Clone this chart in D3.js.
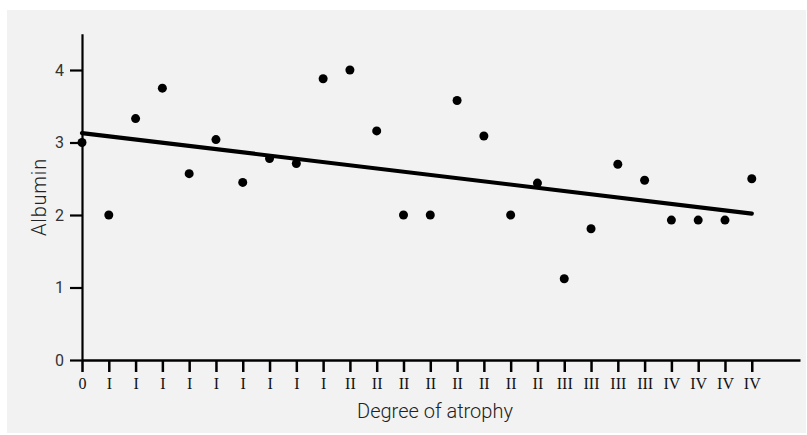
<!DOCTYPE html>
<html>
<head>
<meta charset="utf-8">
<script src="https://cdn.jsdelivr.net/npm/d3@7"></script>
<style>
  body { margin: 0; background: #fff; }
  svg { display: block; }
</style>
</head>
<body>
<script>
// categories along the bottom, one per patient
var grades = ["0", "I", "I", "I", "I", "I", "I", "I", "I", "I",
              "II", "II", "II", "II", "II", "II", "II", "II",
              "III", "III", "III", "III", "IV", "IV", "IV", "IV"];
// albumin readings
var albumin = [3.0, 2.0, 3.33, 3.75, 2.57, 3.04, 2.45, 2.78, 2.71, 3.88,
               4.0, 3.16, 2.0, 2.0, 3.58, 3.09, 2.0, 2.44,
               1.12, 1.81, 2.70, 2.48, 1.93, 1.93, 1.93, 2.50];
// fitted line: value at first and last category
var trendIdx = [0, 25];
var trendVal = [3.13, 2.02];
var yTicks = [0, 1, 2, 3, 4];

var w = 807;
var h = 435;

var svg = d3.select("body")
  .append("svg")
  .attr("width", w)
  .attr("height", h);

// gray panel
svg.append("rect")
  .attr("x", 7)
  .attr("y", 10)
  .attr("width", 799)
  .attr("height", 423)
  .attr("fill", "#f2f2f2");

var x = d3.scaleLinear().domain([0, 26.8]).range([82, 800]);
var y = d3.scaleLinear().domain([0, 4.5]).range([360, 33.75]);

var xAxis = svg.append("g")
  .attr("transform", "translate(0,360)")
  .call(d3.axisBottom(x)
    .tickValues(d3.range(grades.length))
    .tickFormat(function(d) { return grades[d]; })
    .tickSize(12)
    .tickSizeOuter(0)
    .tickPadding(6));

xAxis.select(".domain").attr("stroke", "#000").attr("stroke-width", 2.5);
xAxis.selectAll(".tick line").attr("stroke", "#000").attr("stroke-width", 2.5);
xAxis.selectAll(".tick text")
  .attr("font-family", "'Liberation Serif', 'DejaVu Serif', serif")
  .attr("font-size", "16px")
  .attr("fill", "#111");

var yAxis = svg.append("g")
  .attr("transform", "translate(82,0)")
  .call(d3.axisLeft(y)
    .tickValues(yTicks)
    .tickFormat(d3.format("d"))
    .tickSize(12)
    .tickSizeOuter(0)
    .tickPadding(6));

yAxis.select(".domain").attr("stroke", "#000").attr("stroke-width", 2.2);
yAxis.selectAll(".tick line").attr("stroke", "#000").attr("stroke-width", 2.2);
yAxis.selectAll(".tick text")
  .attr("font-family", "Roboto, sans-serif")
  .attr("font-size", "16px")
  .attr("fill", "#333");

// regression line
var line = d3.line()
  .x(function(d) { return x(d); })
  .y(function(d, i) { return y(trendVal[i]); });

svg.append("path")
  .datum(trendIdx)
  .attr("d", line)
  .attr("fill", "none")
  .attr("stroke", "#000")
  .attr("stroke-width", 4.2)
  .attr("stroke-linecap", "round");

svg.selectAll("circle")
  .data(albumin)
  .enter()
  .append("circle")
  .attr("cx", function(d, i) { return x(i); })
  .attr("cy", function(d) { return y(d); })
  .attr("r", 4.5)
  .attr("fill", "#000");

svg.append("text")
  .text("Degree of atrophy")
  .attr("x", 435)
  .attr("y", 418)
  .attr("font-family", "Roboto, sans-serif")
  .attr("font-size", "20px")
  .attr("font-weight", 300)
  .attr("fill", "#222")
  .attr("text-anchor", "middle");

svg.append("text")
  .text("Albumin")
  .attr("transform", "translate(46,197) rotate(-90)")
  .attr("font-family", "Roboto, sans-serif")
  .attr("font-size", "20px")
  .attr("font-weight", 300)
  .attr("letter-spacing", "0.8px")
  .attr("fill", "#222")
  .attr("text-anchor", "middle");
</script>
</body>
</html>
